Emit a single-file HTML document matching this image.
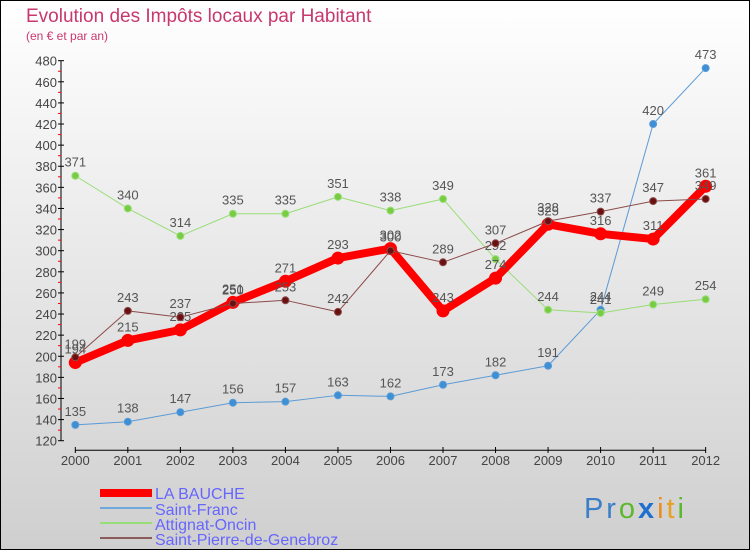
<!DOCTYPE html>
<html><head><meta charset="utf-8"><style>
body{margin:0}
#c{width:750px;height:550px;position:relative;font-family:"Liberation Sans",sans-serif;}
</style></head><body>
<div id="c">
<svg id="s" width="750" height="550" xmlns="http://www.w3.org/2000/svg" font-family="Liberation Sans, sans-serif">
<defs><linearGradient id="bg" x1="0" y1="0" x2="0" y2="1"><stop offset="0" stop-color="#ffffff"/><stop offset="1" stop-color="#cfcfcf"/></linearGradient></defs>
<rect x="0.5" y="0.5" width="749" height="549" fill="url(#bg)" stroke="#000"/>
<text x="26" y="22" font-size="19" fill="#c8386e">Evolution des Impôts locaux par Habitant</text>
<text x="26" y="40" font-size="12" fill="#c8386e">(en € et par an)</text>
<g id="g"></g>
<g>
<rect x="100" y="489" width="52" height="8" fill="#f00"/>
<text x="155" y="499" font-size="16" fill="#6666ff">LA BAUCHE</text>
<line x1="100" y1="508" x2="152" y2="508" stroke="#6fa8dc" stroke-width="2"/>
<text x="155" y="515" font-size="16" fill="#6666ff">Saint-Franc</text>
<line x1="100" y1="523" x2="152" y2="523" stroke="#99dd77" stroke-width="2"/>
<text x="155" y="530" font-size="16" fill="#6666ff">Attignat-Oncin</text>
<line x1="100" y1="538" x2="152" y2="538" stroke="#8b5a5a" stroke-width="2"/>
<text x="155" y="545" font-size="16" fill="#6666ff">Saint-Pierre-de-Genebroz</text>
</g>
<g font-size="29">
<text x="584" y="518" textLength="100"><tspan fill="#3a7fc8">Pr</tspan><tspan fill="#5cb82e">o</tspan><tspan fill="#1e6fd0" font-weight="bold">x</tspan><tspan fill="#f08a1c">i</tspan><tspan fill="#e8a020">t</tspan><tspan fill="#5cb82e">i</tspan></text>
</g>
</svg>
</div>
<script>
const years=[2000,2001,2002,2003,2004,2005,2006,2007,2008,2009,2010,2011,2012];
const laBauche=[194,215,225,251,271,293,302,243,274,325,316,311,361];
const saintFranc=[135,138,147,156,157,163,162,173,182,191,244,420,473];
const attignat=[371,340,314,335,335,351,338,349,292,244,241,249,254];
const saintPierre=[199,243,237,250,253,242,300,289,307,328,337,347,349];
const yTicks=[120,140,160,180,200,220,240,260,280,300,320,340,360,380,400,420,440,460,480];
const NS="http://www.w3.org/2000/svg";
const g=document.getElementById('g');
const xS=i=>75.3+i*52.53;
const yS=v=>440.7-(v-120)*1.0556;
function el(t,a,p){const e=document.createElementNS(NS,t);for(const k in a)e.setAttribute(k,a[k]);(p||g).appendChild(e);return e;}
const ax=el('line',{x1:61,y1:yS(480),x2:61,y2:yS(120),stroke:'#000'});


yTicks.forEach(v=>{
 el('line',{x1:58,x2:64,y1:yS(v),y2:yS(v),stroke:'#000'});
 if(v<480) el('line',{x1:58,x2:61,y1:yS(v+10),y2:yS(v+10),stroke:'#f00'});
 const t=el('text',{x:57,y:yS(v)+5,'font-size':13,'text-anchor':'end',fill:'#444'});
 t.textContent=v;
 
 
});
const xa=el('line',{x1:xS(0),y1:450.3,x2:xS(12),y2:450.3,stroke:'#000'});


years.forEach((y,i)=>{
 el('line',{x1:xS(i),x2:xS(i),y1:447,y2:453,stroke:'#000'});
 const t=el('text',{x:xS(i),y:465,'font-size':13,'text-anchor':'middle',fill:'#444'});
 t.textContent=y;
 
 
});
function series(d,col,dot,w,r,name){
 const p=el('polyline',{points:d.map((v,i)=>xS(i)+','+yS(v)).join(' '),fill:'none',stroke:col,'stroke-width':w,'stroke-linejoin':'round'});
 
 
 d.forEach((v,i)=>{
  const c=el('circle',{cx:xS(i),cy:yS(v),r:r,fill:dot,stroke:col,'stroke-width':1});
  
  
  const t=el('text',{x:xS(i),y:yS(v)-9,'font-size':13,'text-anchor':'middle',fill:'#555'});
  t.textContent=v;
  
  
 });
}
series(saintFranc,'#5b9bd5','#3d8fd6',1,3.5,'saint-franc');
series(attignat,'#99dd77','#77cc44',1,3.5,'attignat-oncin');
series(laBauche,'#ff0000','#ff0000',8,6,'la-bauche');
series(saintPierre,'#8b4a4a','#6b1010',1,3.5,'saint-pierre-de-genebroz');
</script>
</body></html>
